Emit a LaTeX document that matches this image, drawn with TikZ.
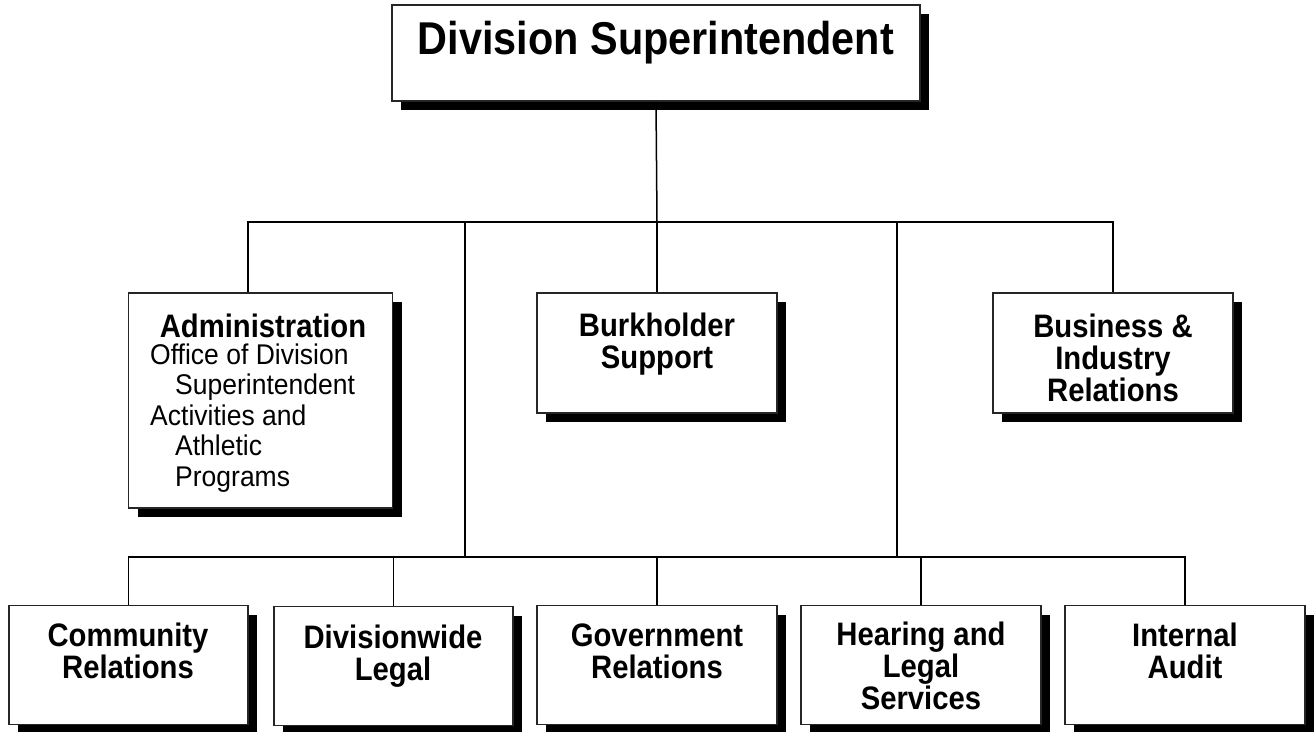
\documentclass[tikz,border=0pt]{standalone}
\usepackage{fontspec}
\setmainfont{Liberation Sans}
\newfontfamily\condsans[FakeStretch=0.9]{Liberation Sans}
\newfontfamily\bodysans[FakeStretch=0.93]{Liberation Sans}
\usetikzlibrary{shadows}
\begin{document}
\begin{tikzpicture}[x=1pt,y=-1pt,
  box/.style={draw=black!85, line width=1.2pt, fill=white, rectangle, inner sep=0pt,
    drop shadow={shadow xshift=9pt, shadow yshift=-9pt, fill=black, opacity=1}},
  lbl/.style={inner sep=0pt, align=center, font=\condsans\fontsize{32.5}{32}\selectfont\bfseries},
  body/.style={inner sep=0pt, align=left, font=\bodysans\fontsize{28.5}{30.5}\selectfont},
  conn/.style={line width=1.5pt, black}]
\useasboundingbox (0,0) rectangle (1314,731);
\clip (0,0) rectangle (1314,731);
% boxes
\node[box, minimum width=528pt, minimum height=96pt] (top) at (656,53) {};
\node[box, minimum width=264pt, minimum height=215pt] (adm) at (260.5,400.5) {};
\node[box, minimum width=240pt, minimum height=120pt] (burk) at (657,353) {};
\node[box, minimum width=240pt, minimum height=120pt] (bus) at (1113,353) {};
\node[box, minimum width=239pt, minimum height=119pt] (comm) at (128.5,665) {};
\node[box, minimum width=239pt, minimum height=119pt] (div) at (393.5,666) {};
\node[box, minimum width=240pt, minimum height=119pt] (gov) at (657,665) {};
\node[box, minimum width=240pt, minimum height=119pt] (hear) at (921,665) {};
\node[box, minimum width=240pt, minimum height=119pt] (aud) at (1185,665) {};
% texts
\node[lbl, font=\condsans\fontsize{46}{50}\selectfont\bfseries] (toptxt) at (656,43) {Division Superintendent};
\node[lbl, font=\condsans\fontsize{32.5}{32}\selectfont\bfseries] (admt) at (263,326) {Administration};
\node[body, anchor=west] (admb) at (150,418) {Office of Division\\\hspace*{25pt}Superintendent\\Activities and\\\hspace*{25pt}Athletic\\\hspace*{25pt}Programs};
\node[lbl] (burkt) at (657,344) {Burkholder\\Support};
\node[lbl] (bust) at (1113,358) {Business \&\\Industry\\Relations};
\node[lbl] (commt) at (128,651) {Community\\Relations};
\node[lbl] (divt) at (393,656) {Divisionwide\\Legal};
\node[lbl] (govt) at (657,651) {Government\\Relations};
\node[lbl] (heart) at (921,666) {Hearing and\\Legal\\Services};
\node[lbl] (audt) at (1185,651) {Internal\\Audit};
% connectors
\coordinate (j1) at (657,222);
\coordinate (jl) at (465,222);
\coordinate (jr) at (897,222);
\coordinate (k1) at (465,557);
\coordinate (k2) at (897,557);
\draw[conn] (top.south) -- (j1);
\draw[conn] (adm.north -| 248,0) |- (j1) -| (bus.north);
\draw[conn] (j1) -- (burk.north);
\draw[conn] (jl) -- (k1);
\draw[conn] (jr) -- (k2);
\draw[conn] (comm.north) |- (k1) -- (k2) -| (aud.north);
\draw[conn] (div.north) -- (div.north |- k1);
\draw[conn] (gov.north) -- (gov.north |- k1);
\draw[conn] (hear.north) -- (hear.north |- k1);
\end{tikzpicture}
\end{document}
